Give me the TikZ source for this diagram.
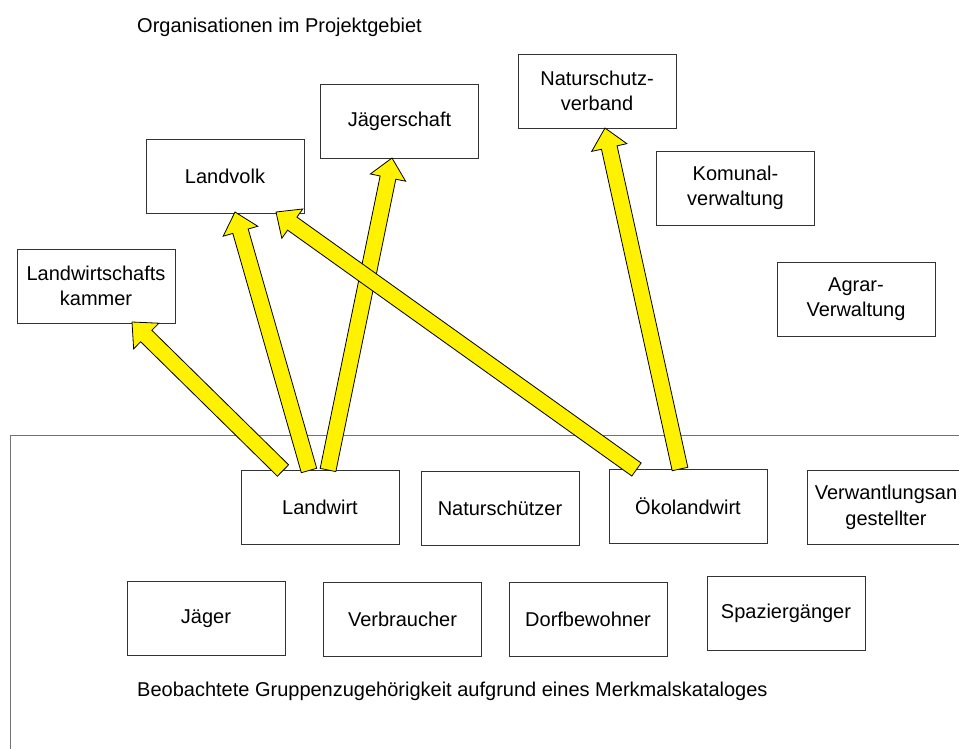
\documentclass[tikz,border=0pt]{standalone}
\usepackage{fontspec}
\setmainfont{Liberation Sans}
\usetikzlibrary{calc}
\newcommand{\boxfont}{\fontsize{20}{25.5}\selectfont}
\tikzset{
  orgbox/.style={draw=black!80, line width=0.9pt, fill=white, minimum width=158pt,
    minimum height=74pt, inner sep=0pt, outer sep=0pt, align=center, font=\boxfont},
  plaintext/.style={inner sep=0pt, font=\boxfont, anchor=base west},
  arrowbody/.style={draw=black, fill=yellow, line width=0.8pt, line join=miter},
  framebox/.style={draw=black!55, line width=1pt}
}
\newcommand{\yarrow}[2]{%
  \filldraw[arrowbody] let \p1=(#1), \p2=(#2),
    \n1={veclen(\x2-\x1,\y2-\y1)},
    \n2={(\x2-\x1)/\n1}, \n3={(\y2-\y1)/\n1},
    \p3=({\x2-20*\n2*1pt},{\y2-20*\n3*1pt})
  in ({\x1-8*\n3*1pt},{\y1+8*\n2*1pt}) -- ({\x3-8*\n3*1pt},{\y3+8*\n2*1pt})
     -- ({\x3-18*\n3*1pt},{\y3+18*\n2*1pt}) -- (\p2)
     -- ({\x3+18*\n3*1pt},{\y3-18*\n2*1pt}) -- ({\x3+8*\n3*1pt},{\y3-8*\n2*1pt})
     -- ({\x1+8*\n3*1pt},{\y1-8*\n2*1pt}) -- cycle;}
\begin{document}
\begin{tikzpicture}[x=1pt,y=-1pt]
\useasboundingbox (0,0) rectangle (959,749);
\clip (0,0) rectangle (959,749);
\fill[white] (0,0) rectangle (959,749);

% frame
\draw[framebox] (10,435) rectangle (980,770);

% titles
\node[plaintext] (title) at (137,33) {Organisationen im Projektgebiet};
\node[plaintext] (caption) at (137,696) {Beobachtete Gruppenzugehörigkeit aufgrund eines Merkmalskataloges};

% organisations
\node[orgbox] (lwk) at (96,286) {Landwirtschafts\\kammer};
\node[orgbox] (landvolk) at (225,176) {Landvolk};
\node[orgbox] (jaegerschaft) at (399.5,121) {Jägerschaft};
\node[orgbox] (nsv) at (597,91) {Naturschutz-\\verband};
\node[orgbox] (komunal) at (735.5,188) {Komunal-\\verwaltung};
\node[orgbox] (agrar) at (856,299) {Agrar-\\Verwaltung};

% groups
\node[orgbox] (landwirt) at (320,507.5) {Landwirt};
\node[orgbox] (naturschuetzer) at (500,508) {Naturschützer};
\node[orgbox] (oeko) at (688,506) {Ökolandwirt};
\node[orgbox] (verw) at (886,507.5) {Verwantlungsan\\gestellter};
\node[orgbox] (jaeger) at (206,618.5) {Jäger};
\node[orgbox] (verbraucher) at (402.5,619) {Verbraucher};
\node[orgbox] (dorf) at (588,619.5) {Dorfbewohner};
\node[orgbox] (spazier) at (786,613) {Spaziergänger};

% arrows
\coordinate (t1) at ($(landwirt.north)+(-37,0)$);
\coordinate (h1) at ($(lwk.south)+(36,-1)$);
\coordinate (t2) at ($(landwirt.north)+(-11,0)$);
\coordinate (h2) at ($(landvolk.south)+(10,-1)$);
\coordinate (t3) at ($(landwirt.north)+(8,-0.5)$);
\coordinate (h3) at ($(jaegerschaft.south)+(-7.5,0)$);
\coordinate (t4) at ($(oeko.north)+(-51.5,0.5)$);
\coordinate (h4) at ($(landvolk.south east)+(-28,-1)$);
\coordinate (t5) at ($(oeko.north)+(-8,0)$);
\coordinate (h5) at ($(nsv.south)+(8,0)$);

\yarrow{t1}{h1}
\yarrow{t2}{h2}
\yarrow{t3}{h3}
\yarrow{t4}{h4}
\yarrow{t5}{h5}
\end{tikzpicture}
\end{document}
